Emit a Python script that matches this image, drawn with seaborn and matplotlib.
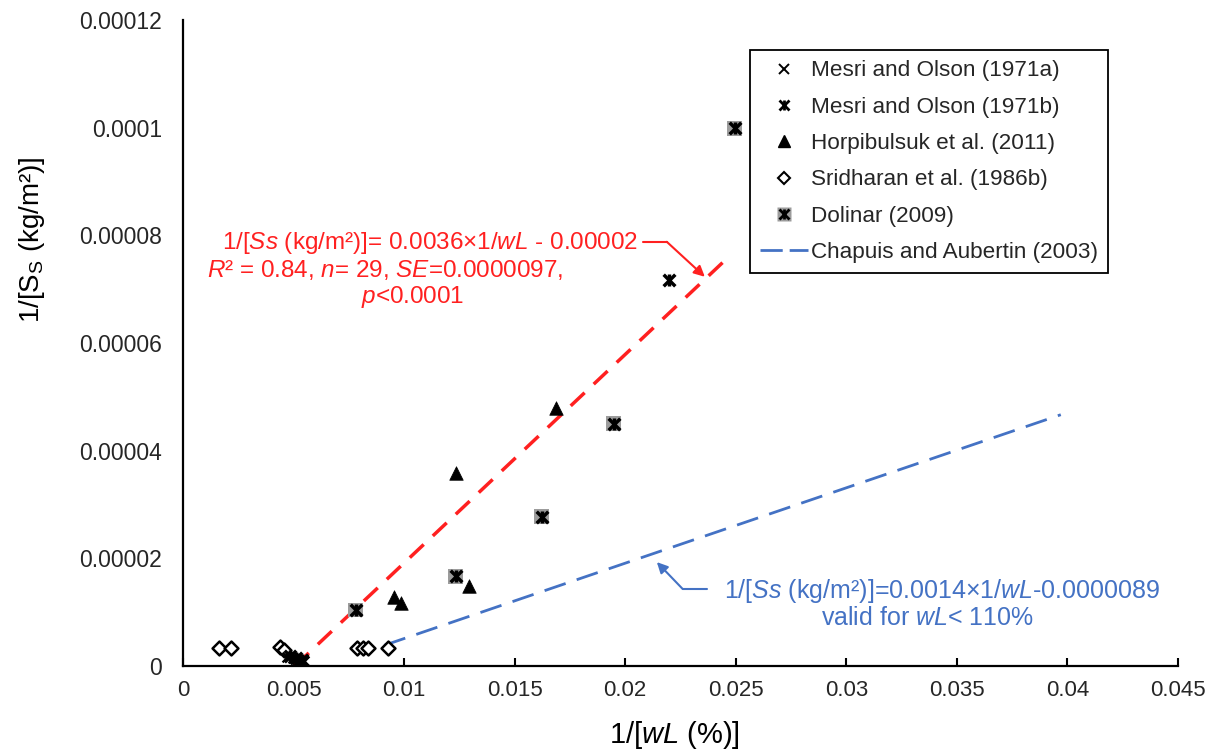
import matplotlib
matplotlib.use("Agg")
import matplotlib.pyplot as plt
import seaborn as sns
import pandas as pd
from matplotlib.lines import Line2D

# ---- data -------------------------------------------------------------
mesri_a_x = [0.00470, 0.00497, 0.00524, 0.00547]
mesri_a_y = [1.7e-6, 1.4e-6, 1.2e-6, 1.0e-6]

mesri_b_x = [0.00484, 0.00511, 0.00538, 0.02197]
mesri_b_y = [1.9e-6, 1.5e-6, 1.2e-6, 7.17e-5]

horp_x = [0.00954, 0.00986, 0.01234, 0.01293, 0.01686]
horp_y = [1.28e-5, 1.17e-5, 3.58e-5, 1.49e-5, 4.79e-5]

srid_x = [0.00164, 0.00215, 0.00439, 0.00456, 0.00785, 0.00812, 0.00838, 0.00928]
srid_y = [3.3e-6, 3.3e-6, 3.5e-6, 3.0e-6, 3.3e-6, 3.3e-6, 3.3e-6, 3.3e-6]

dolinar_x = [0.00782, 0.01234, 0.01623, 0.01948, 0.02496]
dolinar_y = [1.04e-5, 1.67e-5, 2.77e-5, 4.50e-5, 9.99e-5]

# regression line through all data (end points)
fit_x = [0.00506, 0.02473]
fit_y = [0.0, 7.62e-5]

# Chapuis and Aubertin (2003): 1/Ss = a * 1/wL + b
chapuis_slope = 0.0014
chapuis_intercept = -0.0000089
chapuis_x = [0.0091, 0.0397]

x_ticks = [0, 0.005, 0.01, 0.015, 0.02, 0.025, 0.03, 0.035, 0.04, 0.045]
x_tick_labels = ["0", "0.005", "0.01", "0.015", "0.02", "0.025", "0.03",
                 "0.035", "0.04", "0.045"]
y_ticks = [0, 0.00002, 0.00004, 0.00006, 0.00008, 0.0001, 0.00012]
y_tick_labels = ["0", "0.00002", "0.00004", "0.00006", "0.00008", "0.0001",
                 "0.00012"]

# ---- style ------------------------------------------------------------
sns.set_theme(style="white")
plt.rcParams["font.family"] = ["Liberation Sans", "DejaVu Sans"]
plt.rcParams["mathtext.fontset"] = "custom"
plt.rcParams["mathtext.rm"] = "Liberation Sans"
plt.rcParams["mathtext.it"] = "Liberation Sans:italic"
plt.rcParams["mathtext.bf"] = "Liberation Sans:bold"

RED = "#FF2020"
BLUE = "#4472C4"
GREY = "#9C9C9C"

fig = plt.figure(figsize=(12.07, 7.53), dpi=100)
ax = fig.add_axes([183 / 1207, 1 - 666 / 753, 995 / 1207, 646 / 753])

# ---- lines ------------------------------------------------------------
fit_df = pd.DataFrame({"x": fit_x, "y": fit_y})
sns.lineplot(data=fit_df, x="x", y="y", ax=ax, color=RED, linewidth=2.5,
             linestyle=(0, (5.5, 3.6)), zorder=2)

chap_df = pd.DataFrame({"x": chapuis_x})
chap_df["y"] = chapuis_slope * chap_df["x"] + chapuis_intercept
sns.lineplot(data=chap_df, x="x", y="y", ax=ax, color=BLUE, linewidth=2.0,
             linestyle=(0, (8, 4.2)), zorder=2)

# ---- markers ----------------------------------------------------------
sns.scatterplot(x=srid_x, y=srid_y, ax=ax, marker="D", s=50,
                facecolor="white", edgecolor="black", linewidth=1.8, zorder=3)
sns.scatterplot(x=mesri_a_x, y=mesri_a_y, ax=ax, marker="x", s=50,
                color="black", linewidth=1.7, zorder=4)
for m in ("x", "|"):
    sns.scatterplot(x=mesri_b_x, y=mesri_b_y, ax=ax, marker=m, s=70,
                    color="black", linewidth=2.5, zorder=4)
sns.scatterplot(x=horp_x, y=horp_y, ax=ax, marker="^", s=95,
                color="black", edgecolor="black", linewidth=0.5, zorder=4)
sns.scatterplot(x=dolinar_x, y=dolinar_y, ax=ax, marker="s", s=115,
                color=GREY, edgecolor="none", linewidth=0, zorder=4)
for m in ("x", "|"):
    sns.scatterplot(x=dolinar_x, y=dolinar_y, ax=ax, marker=m, s=70,
                    color="black", linewidth=2.5, zorder=5)

# ---- axes -------------------------------------------------------------
ax.set_xlim(0, 0.045)
ax.set_ylim(0, 0.00012)
ax.set_xticks(x_ticks)
ax.set_xticklabels(x_tick_labels)
ax.set_yticks(y_ticks)
ax.set_yticklabels(y_tick_labels)
ax.tick_params(axis="x", direction="in", length=6, width=1.5, color="black",
               labelsize=16, pad=10, bottom=True)
ax.tick_params(axis="y", length=0, labelsize=16.5, pad=15)
for side in ("top", "right"):
    ax.spines[side].set_visible(False)
for side in ("left", "bottom"):
    ax.spines[side].set_color("black")
    ax.spines[side].set_linewidth(1.6)

ax.set_xlabel(r"1/[$\it{wL}$ (%)]", fontsize=21, color="black")
ax.set_ylabel(r"1/[S$_\mathrm{S}$ (kg/m²)]", fontsize=20, color="black")
ax.yaxis.set_label_coords(-0.137, 0.66)
ax.xaxis.set_label_coords(0.494, -0.082)

# ---- annotations ------------------------------------------------------
red_lines = [
    (0.01117, 7.86e-5, r"1/[$\it{Ss}$ (kg/m²)]= 0.0036×1/$\it{wL}$ - 0.00002"),
    (0.00913, 7.36e-5, r"$\it{R}$² = 0.84, $\it{n}$= 29, $\it{SE}$=0.0000097,"),
    (0.01040, 6.86e-5, r"$\it{p}$<0.0001"),
]
for x, y, s in red_lines:
    ax.text(x, y, s, color=RED, fontsize=17.5, ha="center", va="center")
ax.plot([0.0208, 0.02188], [7.88e-5, 7.88e-5], color=RED, lw=1.5)
ax.annotate("", xy=(0.0236, 7.23e-5), xytext=(0.02188, 7.88e-5),
            arrowprops=dict(arrowstyle="-|>", color=RED, lw=1.5,
                            mutation_scale=16, shrinkA=0, shrinkB=0))

blue_lines = [
    (0.03431, 1.39e-5, r"1/[$\it{Ss}$ (kg/m²)]=0.0014×1/$\it{wL}$-0.0000089"),
    (0.03368, 0.89e-5, r"valid for $\it{wL}$< 110%"),
]
for x, y, s in blue_lines:
    ax.text(x, y, s, color=BLUE, fontsize=18, ha="center", va="center")
ax.plot([0.02369, 0.0226], [1.43e-5, 1.43e-5], color=BLUE, lw=1.5)
ax.annotate("", xy=(0.02143, 1.93e-5), xytext=(0.0226, 1.43e-5),
            arrowprops=dict(arrowstyle="-|>", color=BLUE, lw=1.5,
                            mutation_scale=16, shrinkA=0, shrinkB=0))

# ---- legend -----------------------------------------------------------
def star(size=8, lw=2.2):
    return (Line2D([], [], ls="none", marker="x", ms=size, mew=lw, color="black"),
            Line2D([], [], ls="none", marker="|", ms=size, mew=lw, color="black"))

h_a = Line2D([], [], ls="none", marker="x", ms=7, mew=1.4, color="black")
h_b = star(7, 2.0)
h_h = Line2D([], [], ls="none", marker="^", ms=8, color="black")
h_s = Line2D([], [], ls="none", marker="D", ms=6, mfc="white", mec="black", mew=1.5)
h_d = (Line2D([], [], ls="none", marker="s", ms=10, mfc=GREY, mec="none"),) + star(7, 2.0)
h_c = Line2D([], [], color=BLUE, lw=2.0, ls=(0, (8, 2.5)))

leg = ax.legend([h_a, h_b, h_h, h_s, h_d, h_c],
                ["Mesri and Olson (1971a)", "Mesri and Olson (1971b)",
                 "Horpibulsuk et al. (2011)", "Sridharan et al. (1986b)",
                 "Dolinar (2009)", "Chapuis and Aubertin (2003)"],
                loc="upper left", bbox_to_anchor=(0.570, 0.953),
                fontsize=16.2, frameon=True, fancybox=False, framealpha=1,
                edgecolor="black", handlelength=2.1, handletextpad=0.15,
                labelspacing=0.68, borderpad=0.45, borderaxespad=0)
leg.get_frame().set_linewidth(1.3)

fig.savefig("out.png", dpi=100, facecolor="white")
